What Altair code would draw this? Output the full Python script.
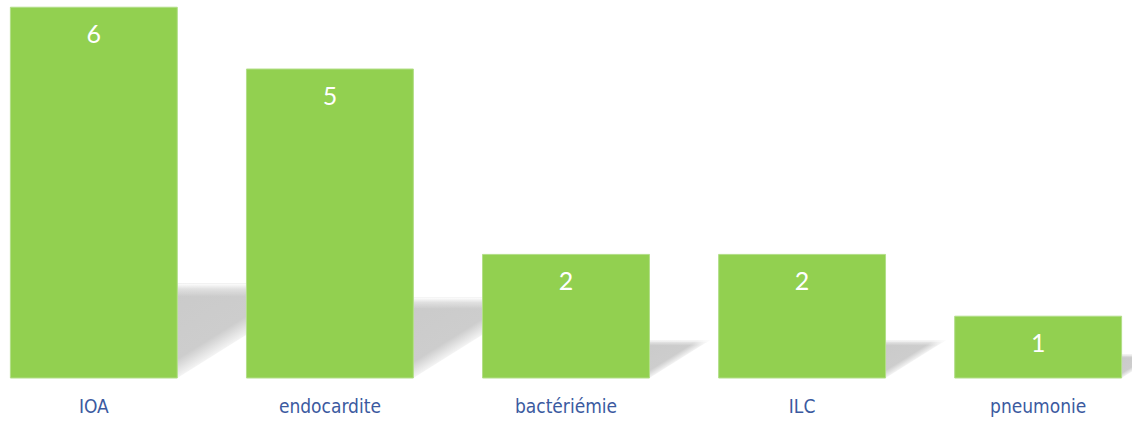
import altair as alt
import pandas as pd

# ---- data ----
categories = ["IOA", "endocardite", "bactériémie", "ILC", "pneumonie"]
values = [6, 5, 2, 2, 1]

# ---- styling constants ----
BAR_COLOR = "#92D050"
LABEL_BLUE = "#3B5A9F"
PLOT_W, PLOT_H = 1132, 378
Y_MAX = 6.117          # y domain top (value 6 bar reaches 7px below top)
P_IN, P_OUT = 0.293, 0.044
HALF_BAND = (1 - P_IN) / 2
STEP = PLOT_W / (len(categories) - P_IN + 2 * P_OUT)
U0 = -(P_OUT + HALF_BAND)
U1 = len(categories) - P_IN + P_OUT - HALF_BAND
PX_PER_UNIT = PLOT_H / Y_MAX

bars_df = pd.DataFrame({"cat": categories, "val": values})

# perspective shadow (triangle behind each bar, to its right), derived from values
rows = []
for i, (c, v) in enumerate(zip(categories, values)):
    dy_val = 0.23 * v + 0.15
    dx_u = 1.6 * dy_val * PX_PER_UNIT / STEP
    r = i + HALF_BAND
    rows.append({"cat": c, "u": r, "lo": 0.0, "hi": dy_val})
    rows.append({"cat": c, "u": r + dx_u, "lo": dy_val, "hi": dy_val})
shadow_df = pd.DataFrame(rows)

yscale = alt.Scale(domain=[0, Y_MAX], nice=False, zero=True)
uscale = alt.Scale(domain=[U0, U1], nice=False, zero=False)
band = alt.Scale(type="band", paddingInner=P_IN, paddingOuter=P_OUT)

shadow = alt.Chart(shadow_df).mark_area(
    color=alt.Gradient(
        gradient="linear",
        stops=[
            alt.GradientStop(color="#cacaca", offset=0),
            alt.GradientStop(color="#cdcdcd", offset=0.8),
            alt.GradientStop(color="#f4f4f4", offset=1),
        ],
        x1=0, y1=0, x2=0.5, y2=0.5,
    ),
    orient="vertical",
).encode(
    x=alt.X("u:Q", scale=uscale, axis=None),
    y=alt.Y("lo:Q", scale=yscale, axis=None),
    y2="hi:Q",
    detail="cat:N",
)

shadow_top = alt.Chart(shadow_df).mark_area(
    color=alt.Gradient(
        gradient="linear",
        stops=[
            alt.GradientStop(color="rgba(255,255,255,1)", offset=0),
            alt.GradientStop(color="rgba(255,255,255,0.4)", offset=0.06),
            alt.GradientStop(color="rgba(255,255,255,0)", offset=0.14),
            alt.GradientStop(color="rgba(255,255,255,0)", offset=1),
        ],
        x1=0, y1=0, x2=0, y2=1,
    ),
    orient="vertical",
).encode(
    x=alt.X("u:Q", scale=uscale, axis=None),
    y=alt.Y("lo:Q", scale=yscale, axis=None),
    y2="hi:Q",
    detail="cat:N",
)

xenc = alt.X(
    "cat:N",
    sort=categories,
    scale=band,
    title=None,
    axis=alt.Axis(
        labelAngle=0,
        labelFont="'Liberation Sans Narrow', 'DejaVu Sans Condensed', 'Liberation Sans', Arial, sans-serif",
        labelFontSize=19,
        labelColor=LABEL_BLUE,
        labelPadding=19,
        domain=False,
        ticks=False,
        grid=False,
    ),
)

bars = alt.Chart(bars_df).mark_bar(
    color=BAR_COLOR, stroke="#b2de88", strokeWidth=1
).encode(
    x=xenc,
    y=alt.Y("val:Q", scale=yscale, axis=None),
)

labels = alt.Chart(bars_df).mark_text(
    color="white", font="Lato", fontSize=25, baseline="middle", dy=28
).encode(
    x=alt.X("cat:N", sort=categories, scale=band, axis=None),
    y=alt.Y("val:Q", scale=yscale, axis=None),
    text="val:Q",
)

chart = (
    alt.layer(shadow, shadow_top, bars, labels)
    .resolve_scale(x="independent")
    .properties(
        width=PLOT_W,
        height=PLOT_H,
        autosize=alt.AutoSizeParams(type="none"),
        padding={"left": 0, "right": 0, "top": 0, "bottom": 43},
        background="white",
    )
    .configure_view(stroke=None)
)

chart.save("out.html", embed_options={"renderer": "svg", "actions": False})
